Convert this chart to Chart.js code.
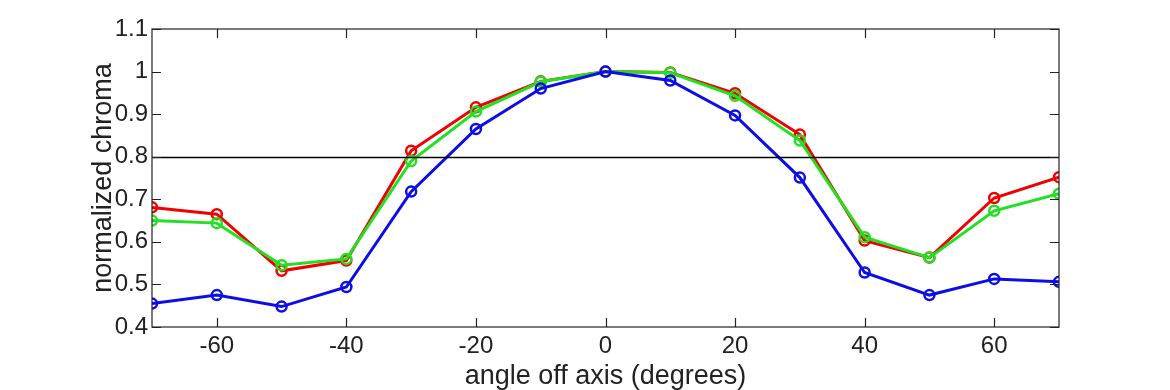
<!DOCTYPE html>
<html>
<head>
<meta charset="utf-8">
<script src="https://cdn.jsdelivr.net/npm/chart.js@4.4.1/dist/chart.umd.min.js"></script>
<style>
  html, body { margin: 0; padding: 0; background: #fff; }
  #wrap { width: 1170px; height: 390px; position: relative; }
</style>
</head>
<body>
<div id="wrap"><canvas id="c" width="1170" height="390"></canvas></div>
<script>
// ---- data ----
const angles = [-70, -60, -50, -40, -30, -20, -10, 0, 10, 20, 30, 40, 50, 60, 70];
const redValues   = [0.681, 0.665, 0.532, 0.556, 0.814, 0.916, 0.977, 1.000, 0.998, 0.949, 0.852, 0.603, 0.563, 0.703, 0.752];
const greenValues = [0.650, 0.644, 0.545, 0.560, 0.790, 0.906, 0.976, 1.000, 0.997, 0.943, 0.838, 0.611, 0.563, 0.673, 0.713];
const blueValues  = [0.455, 0.475, 0.448, 0.494, 0.718, 0.865, 0.960, 1.000, 0.979, 0.897, 0.751, 0.528, 0.475, 0.513, 0.506];
const xTickValues = [-60, -40, -20, 0, 20, 40, 60];
const yTickValues = [0.4, 0.5, 0.6, 0.7, 0.8, 0.9, 1.0, 1.1];
const yTickLabels = ['0.4', '0.5', '0.6', '0.7', '0.8', '0.9', '1', '1.1'];
const thresholdValue = 0.8;
const xLabel = 'angle off axis (degrees)';
const yLabel = 'normalized chroma';

const FONT = "'Liberation Sans', Arial, Helvetica, sans-serif";

function pts(vals) { return angles.map((a, i) => ({ x: a, y: vals[i] })); }

function ds(label, vals, color) {
  return {
    label, data: pts(vals),
    borderColor: color, backgroundColor: 'rgba(0,0,0,0)',
    borderWidth: 3, pointRadius: 5, pointBorderWidth: 2.5,
    pointBorderColor: color, pointBackgroundColor: 'rgba(0,0,0,0)',
    tension: 0, fill: false
  };
}

const framePlugin = {
  id: 'frame',
  afterDatasetsDraw(chart) {
    const { ctx, chartArea: a, scales: { x, y } } = chart;
    ctx.save();
    // threshold line
    const ty = Math.round(y.getPixelForValue(thresholdValue)) + 0.5;
    ctx.strokeStyle = '#000';
    ctx.lineWidth = 1.3;
    ctx.beginPath(); ctx.moveTo(a.left, ty); ctx.lineTo(a.right, ty); ctx.stroke();
    // box
    ctx.strokeStyle = '#222';
    ctx.lineWidth = 1.2;
    ctx.strokeRect(a.left, a.top, a.right - a.left, a.bottom - a.top);
    // inward ticks
    const tl = 9;
    ctx.beginPath();
    xTickValues.forEach(v => {
      const px = Math.round(x.getPixelForValue(v)) + 0.5;
      ctx.moveTo(px, a.bottom); ctx.lineTo(px, a.bottom - tl);
      ctx.moveTo(px, a.top); ctx.lineTo(px, a.top + tl);
    });
    yTickValues.forEach(v => {
      const py = Math.round(y.getPixelForValue(v)) + 0.5;
      ctx.moveTo(a.left, py); ctx.lineTo(a.left + tl, py);
      ctx.moveTo(a.right, py); ctx.lineTo(a.right - tl, py);
    });
    ctx.stroke();
    ctx.restore();
  }
};

new Chart(document.getElementById('c'), {
  type: 'line',
  data: {
    datasets: [
      ds('blue', blueValues, '#0d0de6'),
      ds('green', greenValues, '#22e022'),
      ds('red', redValues, '#f00000')
    ]
  },
  options: {
    responsive: false,
    animation: false,
    layout: { padding: { left: 0, top: 29, right: 111, bottom: 0 } },
    plugins: { legend: { display: false }, tooltip: { enabled: false } },
    scales: {
      x: {
        type: 'linear', min: -70, max: 70,
        afterBuildTicks: s => { s.ticks = xTickValues.map(v => ({ value: v })); },
        afterFit: s => { s.height = 63; },
        grid: { display: false, drawTicks: false },
        border: { display: false },
        ticks: {
          color: '#222', padding: 5, maxRotation: 0,
          font: { family: FONT, size: 24 },
          callback: v => String(v)
        },
        title: {
          display: true, text: xLabel, color: '#222',
          font: { family: FONT, size: 27, lineHeight: 1 },
          padding: { top: 0, bottom: 0 }
        }
      },
      y: {
        type: 'linear', min: 0.4, max: 1.1,
        afterBuildTicks: s => { s.ticks = yTickValues.map(v => ({ value: v })); },
        afterFit: s => { s.width = 152; },
        grid: { display: false, drawTicks: false },
        border: { display: false },
        ticks: {
          color: '#222', padding: 4,
          font: { family: FONT, size: 24 },
          callback: (v) => {
            const i = yTickValues.findIndex(t => Math.abs(t - v) < 1e-6);
            return i >= 0 ? yTickLabels[i] : '';
          }
        },
        title: {
          display: true, text: yLabel, color: '#222',
          font: { family: FONT, size: 27, lineHeight: 1 },
          padding: { top: 90, bottom: 0 }
        }
      }
    }
  },
  plugins: [framePlugin]
});
</script>
</body>
</html>
